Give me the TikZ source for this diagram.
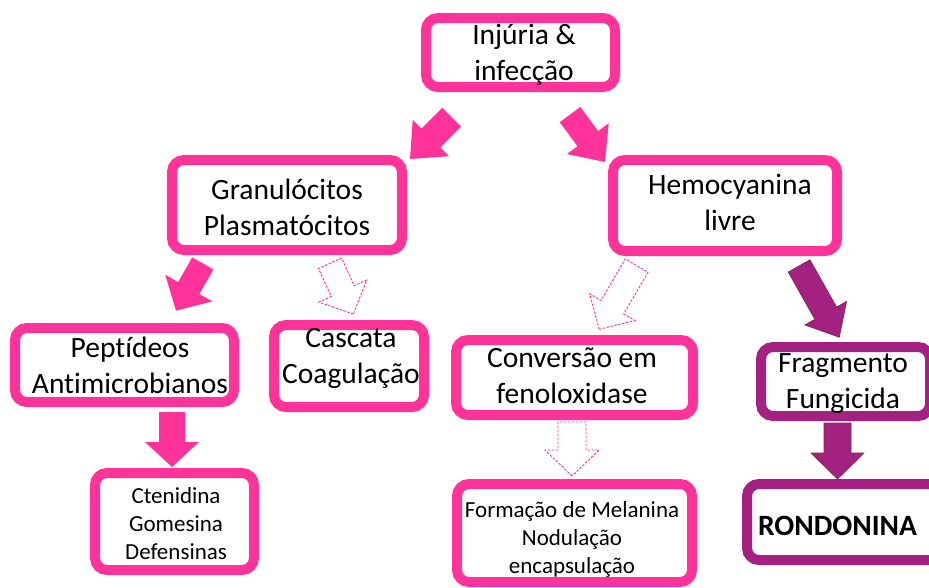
\documentclass[tikz,border=0pt]{standalone}
\usepackage{fontspec}
\setmainfont{Carlito}[Ligatures={NoCommon}]
\usetikzlibrary{calc}
\definecolor{pinkc}{RGB}{255,51,153}
\definecolor{purpc}{RGB}{163,33,128}
\definecolor{purpedge}{RGB}{130,40,60}
\newcommand\blockarrow[6]{%
  \path let \p1=(#2), \p2=(#3), \n1={atan2(\y2-\y1,\x2-\x1)}, \n2={veclen(\x2-\x1,\y2-\y1)} in
    \pgfextra{\xdef\baang{\n1}\xdef\balen{\n2}};
  \begin{scope}[shift={(#3)}, rotate=\baang]
    \path[#1] (0,0) -- (-#6,#5) -- (-#6,#4) -- (-\balen,#4) -- (-\balen,-#4) -- (-#6,-#4) -- (-#6,-#5) -- cycle;
  \end{scope}}
\tikzset{
  pbox/.style={draw=pinkc, line width=10pt, rounded corners=12pt, fill=white, inner sep=0pt},
  ubox/.style={draw=purpc, line width=10pt, rounded corners=12pt, fill=white, inner sep=0pt},
  bigtxt/.style={font=\fontsize{29.5}{36}\selectfont, align=center, inner sep=0pt, text=black},
  smalltxt/.style={font=\fontsize{23}{28}\selectfont, align=center, inner sep=0pt, text=black},
  boldtxt/.style={font=\fontsize{29.5}{36}\selectfont\bfseries, align=center, inner sep=0pt, text=black},
  solidarrow/.style={fill=pinkc, draw=none},
  dasharrow/.style={fill=white, draw=pinkc, line width=0.9pt, dash pattern=on 2.5pt off 1.5pt},
  purparrow/.style={fill=purpc, draw=purpedge, line width=0.6pt},
}
\begin{document}
\begin{tikzpicture}[x=1pt, y=-1pt]
\useasboundingbox[fill=white] (0,0) rectangle (929,587);
% boxes
\node[pbox, minimum width=189pt, minimum height=69pt] (inj) at (520.5,52.5) {};
\node[pbox, minimum width=230pt, minimum height=90pt] (gran) at (287,205) {};
\node[pbox, minimum width=224pt, minimum height=91pt] (hemo) at (725,205.5) {};
\node[pbox, minimum width=219pt, minimum height=74pt] (pep) at (124.5,365) {};
\node[pbox, minimum width=150pt, minimum height=82pt] (casc) at (349,366) {};
\node[pbox, minimum width=159pt, minimum height=97pt] (cten) at (174.5,521.5) {};
\node[pbox, minimum width=237pt, minimum height=75pt] (conv) at (574.5,377.5) {};
\node[pbox, minimum width=235pt, minimum height=98pt] (form) at (574.5,533) {};
\node[ubox, minimum width=169pt, minimum height=69pt] (frag) at (845.5,381.5) {};
\node[ubox, minimum width=203pt, minimum height=76pt] (rond) at (848.5,522) {};
% texts
\node[bigtxt] (inj-t) at (524,55.3) {\strut Injúria \&\\\strut infecção};
\node[bigtxt] (gran-t) at (287,210.3) {\strut Granulócitos\\\strut Plasmatócitos};
\node[bigtxt] (hemo-t) at (730,205.3) {\strut Hemocyanina\\\strut livre};
\node[bigtxt] (pep-t) at (130,367.8) {\strut Peptídeos\\\strut Antimicrobianos};
\node[bigtxt] (casc-t) at (351,357.8) {\strut Cascata\\\strut Coagulação};
\node[bigtxt] (conv-t) at (572,378.3) {\strut Conversão em\\\strut fenoloxidase};
\node[bigtxt] (frag-t) at (843,382.8) {\strut Fragmento\\\strut Fungicida};
\node[smalltxt] (cten-t) at (176,525.9) {\strut Ctenidina\\\strut Gomesina\\\strut Defensinas};
\node[smalltxt] (form-t) at (572,539.4) {\strut Formação de Melanina\\\strut Nodulação\\\strut encapsulação};
\node[boldtxt] (rond-t) at (837.5,527.8) {\strut RONDONINA};
% arrow end points
\coordinate (aA-t) at (451.7,117.2); \coordinate (aA-h) at (410,159);
\coordinate (aB-t) at (570,114.5);   \coordinate (aB-h) at (605,162);
\coordinate (aC-t) at (202.8,263.3); \coordinate (aC-h) at (176,310.7);
\coordinate (aD-t) at (330,263.3);   \coordinate (aD-h) at (353.3,314);
\coordinate (aE-t) at (636.7,265.5); \coordinate (aE-h) at (599.3,329.3);
\coordinate (aF-t) at (799,265.8);   \coordinate (aF-h) at (839.3,337.3);
\coordinate (aG-t) at (172,412);     \coordinate (aG-h) at (172,467);
\coordinate (aH-t) at (572,422);     \coordinate (aH-h) at (572,476);
\coordinate (aI-t) at (837.5,423);   \coordinate (aI-h) at (837.5,479);
% arrows
\blockarrow{solidarrow}{aA-t}{aA-h}{13.3}{25.7}{29.6}
\blockarrow{solidarrow}{aB-t}{aB-h}{12.8}{26}{29}
\blockarrow{solidarrow}{aC-t}{aC-h}{12.2}{27}{26}
\blockarrow{dasharrow}{aD-t}{aD-h}{12.7}{26.4}{25.2}
\blockarrow{dasharrow}{aE-t}{aE-h}{13.2}{26.2}{25.7}
\blockarrow{purparrow}{aF-t}{aF-h}{12.5}{24}{27.7}
\blockarrow{solidarrow}{aG-t}{aG-h}{13}{27}{25}
\blockarrow{dasharrow}{aH-t}{aH-h}{14}{27}{26}
\blockarrow{purparrow}{aI-t}{aI-h}{13.5}{26.5}{26}
\end{tikzpicture}
\end{document}
